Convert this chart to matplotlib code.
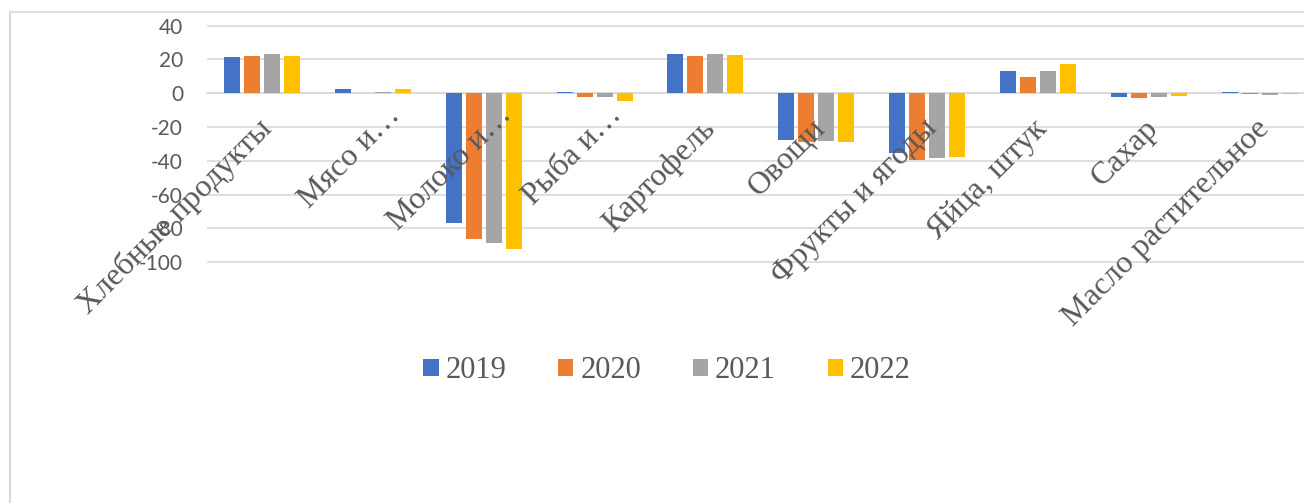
import matplotlib
matplotlib.use("Agg")
import matplotlib.pyplot as plt
import matplotlib.transforms as mtransforms
import numpy as np
from matplotlib.patches import Patch
from matplotlib.lines import Line2D

categories = [
    "Хлебные продукты", "Мясо и…", "Молоко и…", "Рыба и…", "Картофель",
    "Овощи", "Фрукты и ягоды", "Яйца, штук", "Сахар", "Масло растительное",
]
years = ["2019", "2020", "2021", "2022"]
v2019 = [21.6, 2.4, -76.6, 0.8, 23.5, -27.5, -35.2, 13.3, -2.5, 0.7]
v2020 = [22.2, 0.0, -86.0, -2.0, 22.2, -29.0, -39.3, 9.6, -2.7, -0.3]
v2021 = [23.0, 0.5, -88.5, -2.2, 23.2, -28.5, -38.5, 13.3, -2.5, -1.0]
v2022 = [22.2, 2.4, -92.0, -4.5, 22.7, -28.9, -38.0, 17.3, -1.9, -0.5]
colors = ["#4472C4", "#ED7D31", "#A5A5A5", "#FFC000"]

W, H = 1304, 503
fig = plt.figure(figsize=(W / 100, H / 100), dpi=100)

# plot area in pixels (y limits padded so edge gridlines are not clipped)
left_px, right_px = 206.7, 1315.0
top_px, bot_px = 24.0, 263.9
ax = fig.add_axes([left_px / W, 1 - bot_px / H,
                   (right_px - left_px) / W, (bot_px - top_px) / H])

ax.set_xlim(-0.5, len(categories) - 0.5)
ax.set_ylim(-101, 41)

# gridlines drawn by hand so the category labels can sit above the bars
yticks = np.arange(-100, 41, 20)
for yv in yticks:
    ax.axhline(yv, color="#D9D9D9", linewidth=1.2, zorder=0.5)

x = np.arange(len(categories))
step, width = 0.1805, 0.1444
for i, (vals, c, lab) in enumerate(zip([v2019, v2020, v2021, v2022], colors, years)):
    ax.bar(x + (i - 1.5) * step, vals, width=width, color=c, label=lab, zorder=2)

ax.set_axisbelow(False)
ax.set_yticks(yticks)
ax.set_yticklabels([str(v) for v in yticks],
                   fontfamily="Lato", fontsize=15, color="#595959")

for s in ["top", "right", "left"]:
    ax.spines[s].set_visible(False)
ax.spines["bottom"].set_position(("data", 0))
ax.spines["bottom"].set_color("#D9D9D9")
ax.spines["bottom"].set_linewidth(1.2)
ax.spines["bottom"].set_zorder(0.6)

ax.set_xticks(x)
ax.set_xticklabels(categories, rotation=45, ha="right", va="top",
                   rotation_mode="anchor", fontfamily="Liberation Serif",
                   fontsize=23, color="#595959")
ax.tick_params(axis="x", length=0, pad=15)
ax.tick_params(axis="y", length=0, pad=17)
for lbl in ax.get_xticklabels():
    # truncated labels sit a bit further up-right along their direction
    if lbl.get_text().endswith("…"):
        dx, dy = 13, 13
    else:
        dx, dy = -5, 0
    shift = mtransforms.ScaledTranslation(dx / 100, dy / 100, fig.dpi_scale_trans)
    lbl.set_transform(lbl.get_transform() + shift)

handles = [Patch(facecolor=c, label=lab) for c, lab in zip(colors, years)]
fig.legend(handles=handles, loc="center", bbox_to_anchor=(667 / W, 1 - 371 / H),
           ncol=4, frameon=False, prop={"family": "Liberation Serif", "size": 22},
           labelcolor="#595959", handlelength=0.5, handleheight=0.5,
           handletextpad=0.22, columnspacing=1.7, borderpad=0)

# chart border (only left and top visible in the crop)
fig.add_artist(Line2D([9.5 / W, 9.5 / W], [0, 1 - 11.5 / H], color="#D9D9D9",
                      linewidth=1.5, transform=fig.transFigure))
fig.add_artist(Line2D([9.5 / W, 1], [1 - 11.5 / H, 1 - 11.5 / H], color="#D9D9D9",
                      linewidth=1.2, transform=fig.transFigure))

fig.savefig("out.png", dpi=100)
